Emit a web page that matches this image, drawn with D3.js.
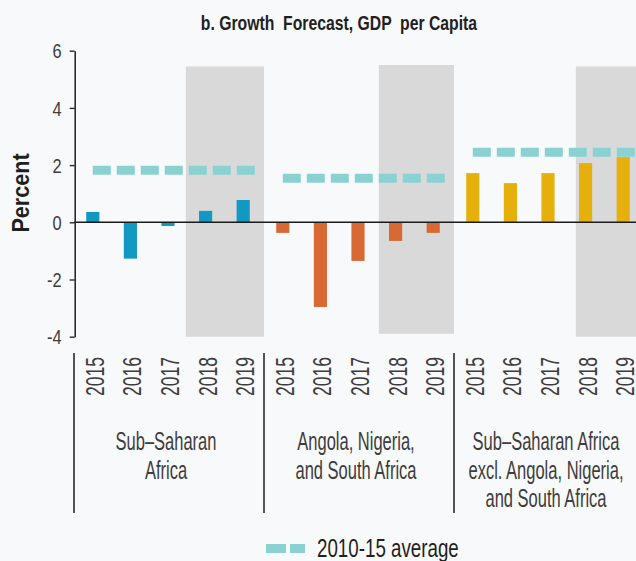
<!DOCTYPE html>
<html>
<head>
<meta charset="utf-8">
<script src="https://cdn.jsdelivr.net/npm/d3@7"></script>
<style>
  html, body { margin: 0; padding: 0; background: #f8f9fb; }
  svg { display: block; }
  text { font-family: "Liberation Sans", Arial, sans-serif; }
</style>
</head>
<body>
<svg id="chart" width="636" height="561"></svg>
<script>
// ---- Data ----
const groups = ["Sub-Saharan Africa", "Angola, Nigeria, and South Africa", "Sub-Saharan Africa excl. Angola, Nigeria, and South Africa"];
const groupLabelLines = [
  ["Sub–Saharan", "Africa"],
  ["Angola, Nigeria,", "and South Africa"],
  ["Sub–Saharan Africa", "excl. Angola, Nigeria,", "and South Africa"]
];
const years = ["2015", "2016", "2017", "2018", "2019"];
const ssaValues = [0.36, -1.27, -0.13, 0.40, 0.78];
const angNgaZafValues = [-0.37, -2.96, -1.35, -0.65, -0.37];
const ssaExclValues = [1.72, 1.37, 1.72, 2.07, 2.28];
const averages2010to15 = [1.82, 1.54, 2.45];
const forecastYears = ["2018", "2019"];
const shadeTop = [5.45, 5.5, 5.45];
const shadeBottom = [-4, -3.9, -4];
const yTicks = [-4, -2, 0, 2, 4, 6];
const titleText = "b. Growth  Forecast, GDP  per Capita";
const yAxisTitle = "Percent";
const legendLabel = "2010-15 average";

const seriesValues = [ssaValues, angNgaZafValues, ssaExclValues];
const colors = ["#1199c4", "#d66934", "#e6b00c"];
const avgColor = "#8ad2d2";
const shadeColor = "#d9d9d9";
const inkColor = "#2b2b2b";
const shadeNudge = [-1, 2, 9]; // small per-panel pixel nudges of the shaded area's left edge

// ---- Helpers ----
function condense(sel, f) {
  sel.each(function () {
    const L = this.getComputedTextLength();
    this.setAttribute("textLength", (L * f).toFixed(2));
    this.setAttribute("lengthAdjust", "spacingAndGlyphs");
  });
}

// ---- Scales ----
const svg = d3.select("#chart");
const y = d3.scaleLinear().domain([-4, 6]).range([336.7, 50.7]);
const outer = d3.scaleBand().domain(groups).range([74, 644]);
const inner = d3.scaleBand().domain(years).range([0, 188]).paddingInner(0.65).paddingOuter(0.325);
const bw = inner.bandwidth();

// ---- Shaded forecast areas ----
const prevYear = years[years.indexOf(forecastYears[0]) - 1];
const shadeX = (g, i) => outer(g) + (inner(forecastYears[0]) + inner(prevYear)) / 2 + bw / 2 + shadeNudge[i];
svg.append("g").selectAll("rect").data(groups).join("rect")
  .attr("x", (g, i) => shadeX(g, i))
  .attr("y", (g, i) => y(shadeTop[i]))
  .attr("width", (g, i) => outer(g) + outer.bandwidth() - shadeX(g, i))
  .attr("height", (g, i) => y(shadeBottom[i]) - y(shadeTop[i]))
  .attr("fill", shadeColor);

// ---- Bars ----
groups.forEach((g, gi) => {
  svg.append("g").selectAll("rect").data(years.map((yr, i) => ({ yr, v: seriesValues[gi][i] }))).join("rect")
    .attr("x", d => outer(g) + inner(d.yr))
    .attr("width", bw)
    .attr("y", d => y(Math.max(0, d.v)))
    .attr("height", d => Math.abs(y(d.v) - y(0)))
    .attr("fill", colors[gi]);
});

// ---- Average lines ----
svg.append("g").selectAll("line").data(groups).join("line")
  .attr("x1", g => outer(g) + inner(years[0]) + bw / 2)
  .attr("x2", g => outer(g) + inner(years[years.length - 1]) + bw * 1.5)
  .attr("y1", (g, i) => y(averages2010to15[i]))
  .attr("y2", (g, i) => y(averages2010to15[i]))
  .attr("stroke", avgColor)
  .attr("stroke-width", 9)
  .attr("stroke-dasharray", "18,6");

// ---- Zero line ----
svg.append("line")
  .attr("x1", 74).attr("x2", 636)
  .attr("y1", y(0)).attr("y2", y(0))
  .attr("stroke", "#1a1a1a").attr("stroke-width", 1.6);

// ---- Y axis ----
const yAxisG = svg.append("g").attr("transform", "translate(74.7,0)")
  .call(d3.axisLeft(y).tickValues(yTicks).tickFormat(d => String(d)).tickSize(5).tickSizeOuter(0).tickPadding(8));
yAxisG.select(".domain").attr("stroke", inkColor).attr("stroke-width", 1.6);
yAxisG.selectAll(".tick line").attr("stroke", inkColor).attr("stroke-width", 1.4);
yAxisG.selectAll(".tick text")
  .attr("fill", "#3d3d3d")
  .style("font-size", "20px")
  .style("font-family", "'Liberation Sans', Arial, sans-serif")
  .attr("dy", "0.36em")
  .call(condense, 0.82);

// ---- Y axis title ----
svg.append("text")
  .attr("transform", "translate(28.5,193) rotate(-90)")
  .attr("text-anchor", "middle")
  .attr("fill", "#1f1f1f")
  .style("font-size", "24px").style("font-weight", "bold")
  .text(yAxisTitle)
  .call(condense, 0.9);

// ---- X axis (years per group) ----
groups.forEach((g) => {
  const ax = svg.append("g").attr("transform", `translate(${outer(g)},357)`)
    .call(d3.axisBottom(inner).tickSize(0).tickPadding(0));
  ax.select(".domain").remove();
  ax.selectAll(".tick text")
    .attr("transform", "rotate(-90)")
    .attr("x", 0).attr("y", 2).attr("dy", "0.36em")
    .attr("text-anchor", "end")
    .attr("fill", "#3d3d3d")
    .style("font-size", "25px")
    .style("font-family", "'Liberation Sans', Arial, sans-serif")
    .call(condense, 0.70);
});

// ---- Group separators ----
svg.append("g").selectAll("line").data(groups).join("line")
  .attr("x1", g => outer(g)).attr("x2", g => outer(g))
  .attr("y1", 353).attr("y2", 513)
  .attr("stroke", inkColor).attr("stroke-width", 1.6);

// ---- Group labels ----
groups.forEach((g, gi) => {
  svg.append("g").selectAll("text").data(groupLabelLines[gi]).join("text")
    .attr("x", outer(g) + outer.bandwidth() / 2 - 3)
    .attr("y", (d, i) => 450 + i * 28.5)
    .attr("text-anchor", "middle")
    .attr("fill", "#3d3d3d")
    .style("font-size", "25px")
    .text(d => d)
    .call(condense, 0.66);
});

// ---- Title ----
svg.append("text")
  .attr("x", 339).attr("y", 30)
  .attr("text-anchor", "middle")
  .attr("fill", "#231f20")
  .style("font-size", "21px").style("font-weight", "bold")
  .style("white-space", "pre")
  .text(titleText)
  .call(condense, 0.75);

// ---- Legend ----
const lg = svg.append("g");
lg.append("line")
  .attr("x1", 266).attr("x2", 306)
  .attr("y1", 548.5).attr("y2", 548.5)
  .attr("stroke", avgColor).attr("stroke-width", 9)
  .attr("stroke-dasharray", "20,4,15");
lg.append("text")
  .attr("x", 317).attr("y", 557)
  .attr("fill", "#231f20")
  .style("font-size", "25px")
  .text(legendLabel)
  .call(condense, 0.75);
</script>
</body>
</html>
